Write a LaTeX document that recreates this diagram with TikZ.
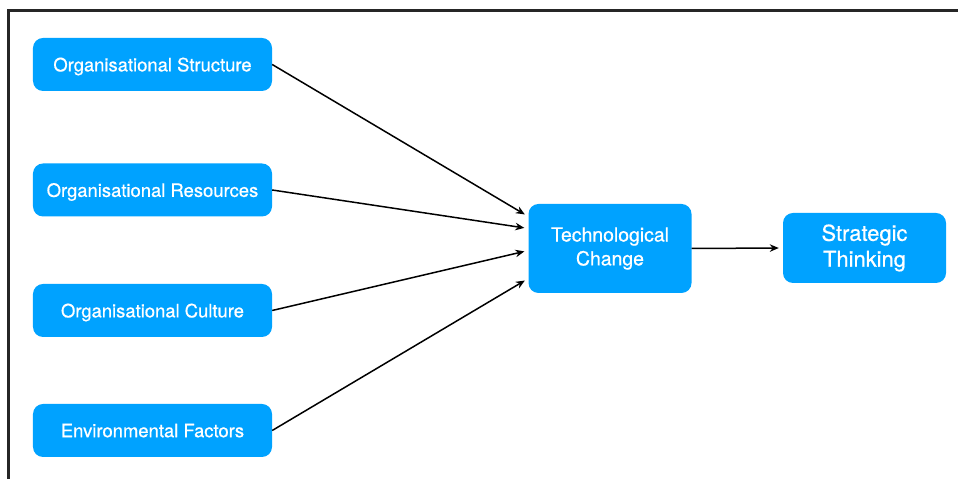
\documentclass[tikz,border=0pt]{standalone}
\usepackage{fontspec}
\setmainfont{TeX Gyre Heros}
\newfontfamily\boxfont{TeX Gyre Heros}[FakeBold=0.6]
\usetikzlibrary{arrows.meta}
\definecolor{boxblue}{HTML}{00A2FF}

\begin{document}
\begin{tikzpicture}[>={Stealth[length=9bp,width=7.5bp]}, x=1bp, y=1bp,
  factor/.style={fill=boxblue, text=white, rounded corners=10bp,
    minimum width=239bp, minimum height=53bp, inner sep=0pt, text depth=0pt,
    font=\boxfont\fontsize{18.5}{22}\selectfont},
  stage/.style={fill=boxblue, text=white, rounded corners=10bp,
    minimum width=163bp, inner sep=0pt, align=center,
    font=\boxfont\fontsize{19.5}{24}\selectfont},
  link/.style={->, line width=1.5bp, shorten >=4bp}]
  \useasboundingbox (0,0) rectangle (958,479);
  % frame
  \draw[line width=3bp, color=black!85] (8,0) -- (8,468) -- (958,468);
  % influencing factors
  \node[factor] (struct) at (152.5,414.5) {Organisational Structure};
  \node[factor] (resour) at (152.5,289) {Organisational Resources};
  \node[factor] (cultur) at (152.5,168.5) {Organisational Culture};
  \node[factor] (envfac) at (152.5,48.5) {Environmental Factors};
  % change and outcome
  \node[stage, minimum height=89bp] (tech) at (610,230.5) {Technological\\Change};
  \node[stage, minimum height=70bp, font=\boxfont\fontsize{22}{26}\selectfont]
    (strat) at (864.5,231) {Strategic\\Thinking};
  % arrows into technological change
  \draw[link] (struct.east) -- ([yshift=32bp]tech.west);
  \draw[link] (resour.east) -- ([yshift=20bp]tech.west);
  \draw[link] (cultur.east) -- ([yshift=-2bp]tech.west);
  \draw[link] (envfac.east) -- ([yshift=-30bp]tech.west);
  % technological change -> strategic thinking
  \draw[link] (tech.east) -- (strat.west);
\end{tikzpicture}
\end{document}
